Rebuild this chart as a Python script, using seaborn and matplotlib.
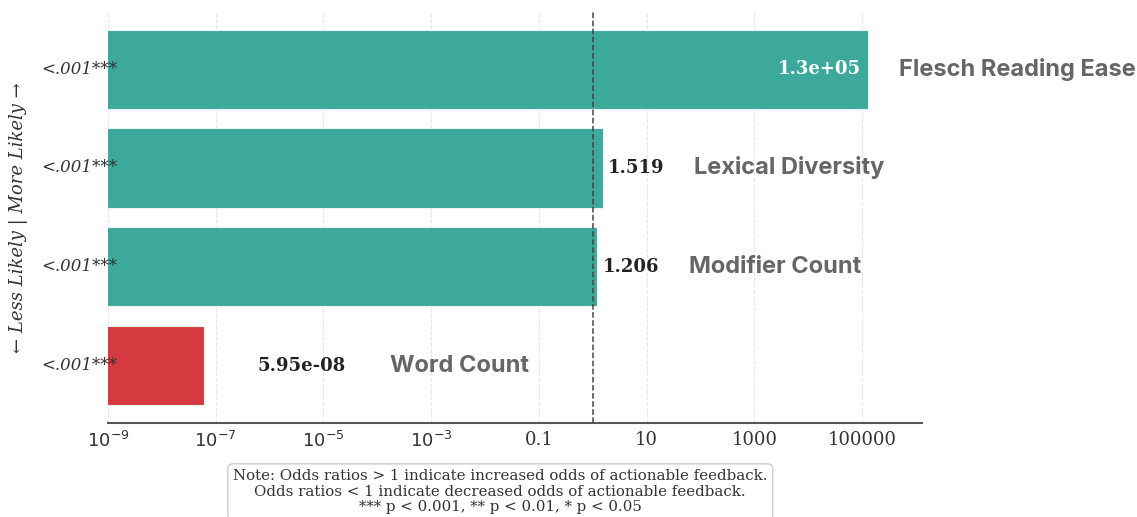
import numpy as np
import pandas as pd
import matplotlib
matplotlib.use('Agg')
import matplotlib.pyplot as plt
import matplotlib.transforms as mtransforms
from matplotlib.ticker import FixedLocator, FuncFormatter
import seaborn as sns

# data
features = ['Flesch Reading Ease', 'Lexical Diversity', 'Modifier Count', 'Word Count']
odds_ratios = [1.3e5, 1.519, 1.206, 5.95e-08]
value_labels = ['1.3e+05', '1.519', '1.206', '5.95e-08']
p_labels = ['<.001***', '<.001***', '<.001***', '<.001***']
bar_colors = ['#3ca99b', '#3ca99b', '#3ca99b', '#d63a41']

sns.set_theme(style='white')
plt.rcParams['font.family'] = ['DejaVu Serif']
plt.rcParams['mathtext.fontset'] = 'dejavusans'

df = pd.DataFrame({'feature': features, 'odds': odds_ratios})

fig = plt.figure(figsize=(11.37, 5.17), dpi=100)
ax = fig.add_axes([0.095, 0.182, 0.716, 0.795])

sns.barplot(data=df, x='odds', y='feature', hue='feature', palette=bar_colors,
            orient='h', legend=False, width=0.8, saturation=1,
            edgecolor='#e8f4f2', linewidth=0.8, ax=ax)
ax.set_xscale('log')

ax.set_xlim(1e-9, 1.3e6)
ax.set_ylim(3.58, -0.58)

# ticks every two decades, plain numbers for the large ones
ax.xaxis.set_major_locator(FixedLocator(10.0 ** np.arange(-9, 6, 2)))
ax.xaxis.set_minor_locator(FixedLocator([]))


def fmt_tick(x, pos):
    if x < 0.01:
        return r'$10^{%d}$' % int(round(np.log10(x)))
    return '{:g}'.format(x)


ax.xaxis.set_major_formatter(FuncFormatter(fmt_tick))
ax.tick_params(axis='x', labelsize=13, colors='#333333', length=0, pad=6)
ax.set_yticks([])
ax.set_xlabel('')
ax.set_ylabel('← Less Likely | More Likely →', fontsize=13, style='italic',
              color='#333333')
ax.yaxis.set_label_coords(-0.098, 0.5)

ax.grid(axis='x', linestyle='--', color='#e6e6e6', linewidth=0.8)
ax.set_axisbelow(True)
for s in ['top', 'right', 'left']:
    ax.spines[s].set_visible(False)
ax.spines['bottom'].set_color('#555555')
ax.spines['bottom'].set_linewidth(1.5)

# reference line at odds ratio = 1
ax.axvline(1, color='#444444', linestyle='--', linewidth=1.1, zorder=3)

blend = mtransforms.blended_transform_factory(ax.transAxes, ax.transData)
name_font = dict(fontsize=17, fontweight='bold', color='#666666', family='Inter')
for i, (feat, val, lab, pl) in enumerate(zip(features, odds_ratios, value_labels, p_labels)):
    # p-value label at left edge
    ax.text(0.012, i, pl, transform=blend, ha='right', va='center',
            fontsize=12, style='italic', color='#333333', zorder=4)
    if val > 1000:
        ax.annotate(lab, xy=(val, i), xytext=(-5, 0), textcoords='offset points',
                    ha='right', va='center', fontsize=13, fontweight='bold', color='white')
        ax.annotate(feat, xy=(val, i), xytext=(22, 0), textcoords='offset points',
                    ha='left', va='center', **name_font)
    elif val >= 1:
        ax.annotate(lab, xy=(val, i), xytext=(4, 0), textcoords='offset points',
                    ha='left', va='center', fontsize=13, fontweight='bold', color='#222222')
        ax.annotate(feat, xy=(val, i), xytext=(66, 0), textcoords='offset points',
                    ha='left', va='center', **name_font)
    else:
        ax.annotate(lab, xy=(val, i), xytext=(39, 0), textcoords='offset points',
                    ha='left', va='center', fontsize=13, fontweight='bold', color='#222222')
        ax.annotate(feat, xy=(val, i), xytext=(134, 0), textcoords='offset points',
                    ha='left', va='center', **name_font)

note = ('Note: Odds ratios > 1 indicate increased odds of actionable feedback.\n'
        'Odds ratios < 1 indicate decreased odds of actionable feedback.\n'
        '*** p < 0.001, ** p < 0.01, * p < 0.05')
fig.text(0.44, 0.005, note, ha='center', va='bottom', fontsize=10.8, color='#333333',
         linespacing=1.15, multialignment='center',
         bbox=dict(boxstyle='round,pad=0.35', facecolor='white', edgecolor='#cccccc'))

fig.savefig('out.png', dpi=100)
